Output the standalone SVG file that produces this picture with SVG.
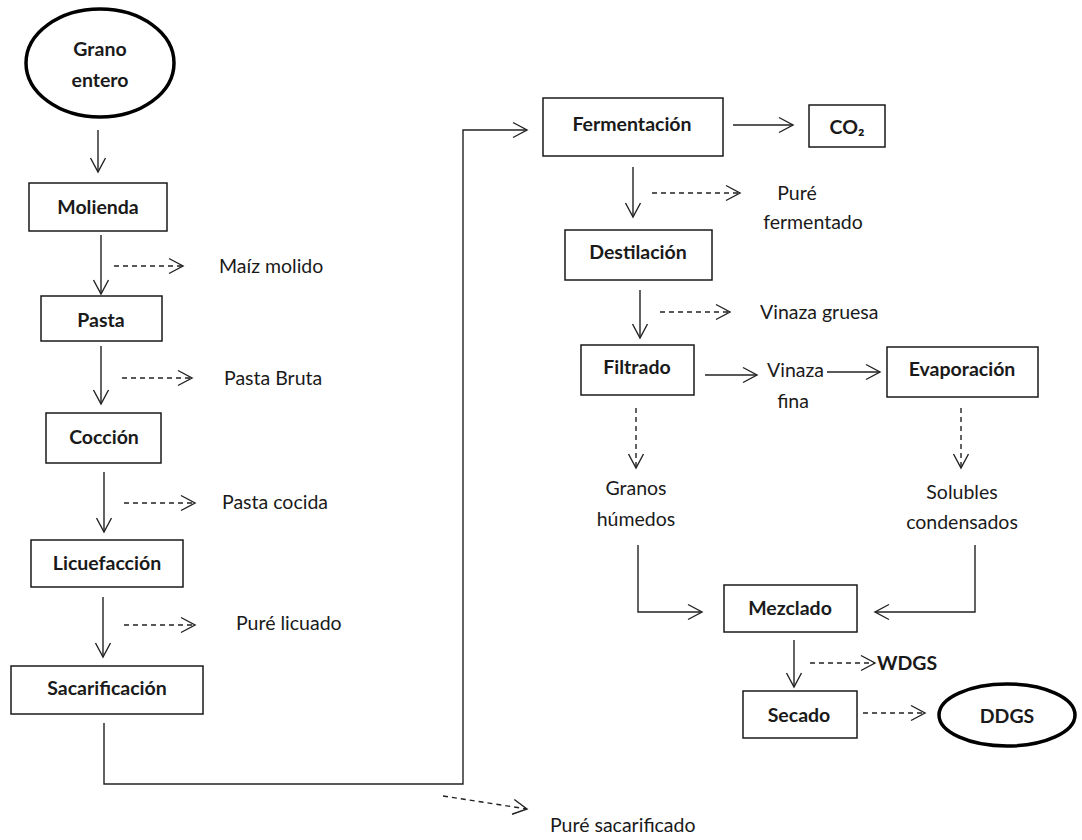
<svg xmlns="http://www.w3.org/2000/svg" width="1082" height="840" viewBox="0 0 1082 840">
<style>
.box{fill:#fff;stroke:#1a1a1a;stroke-width:1.5}
.ell{fill:#fff;stroke:#000;stroke-width:3.5}
.b{font-family:Lato,"Open Sans","Liberation Sans",sans-serif;font-weight:bold;font-size:19.5px;fill:#1a1a1a;text-anchor:middle}
.t{font-family:Lato,"Open Sans","Liberation Sans",sans-serif;font-size:19.5px;fill:#1a1a1a}
.tc{text-anchor:middle}
.c{fill:none;stroke:#222;stroke-width:1.4}
.d{stroke-dasharray:5 4}
</style>
<defs>
<marker id="ah" markerUnits="userSpaceOnUse" markerWidth="20" markerHeight="20" refX="16" refY="9" orient="auto">
<path d="M2,1.5 L16,9 L2,16.5" fill="none" stroke="#222" stroke-width="1.4"/>
</marker>
</defs>
<rect width="1082" height="840" fill="#fff"/>
<g id="connectors">
<path class="c" d="M98,130 V172" marker-end="url(#ah)"/>
<path class="c" d="M101,235 V294" marker-end="url(#ah)"/>
<path class="c d" d="M114,266 H183" marker-end="url(#ah)"/>
<path class="c" d="M101,346 V404" marker-end="url(#ah)"/>
<path class="c d" d="M122,378 H192" marker-end="url(#ah)"/>
<path class="c" d="M104,472 V532" marker-end="url(#ah)"/>
<path class="c d" d="M124,503 H195" marker-end="url(#ah)"/>
<path class="c" d="M103,597 V657" marker-end="url(#ah)"/>
<path class="c d" d="M124,625 H195" marker-end="url(#ah)"/>
<path class="c" d="M104,723 V784 H463 V130 H527" marker-end="url(#ah)"/>
<path class="c d" d="M443,796 L527,809" marker-end="url(#ah)"/>
<path class="c" d="M733,125 H793" marker-end="url(#ah)"/>
<path class="c" d="M633,167 V217" marker-end="url(#ah)"/>
<path class="c d" d="M652,193 H740" marker-end="url(#ah)"/>
<path class="c" d="M640,290 V338" marker-end="url(#ah)"/>
<path class="c d" d="M660,312 H730" marker-end="url(#ah)"/>
<path class="c" d="M705,375 H757" marker-end="url(#ah)"/>
<path class="c" d="M827,372 H880" marker-end="url(#ah)"/>
<path class="c d" d="M636,408 V468" marker-end="url(#ah)"/>
<path class="c d" d="M961,408 V468" marker-end="url(#ah)"/>
<path class="c" d="M638,545 V612 H702" marker-end="url(#ah)"/>
<path class="c" d="M975,545 V612 H875" marker-end="url(#ah)"/>
<path class="c" d="M794,640 V687" marker-end="url(#ah)"/>
<path class="c d" d="M810,663 H875" marker-end="url(#ah)"/>
<path class="c d" d="M863,713 H925" marker-end="url(#ah)"/>
</g>
<g id="grano"><ellipse class="ell" cx="100" cy="63" rx="74" ry="54"/><text class="b" x="100" y="56">Grano</text><text class="b" x="100" y="87">entero</text></g>
<g id="molienda"><rect class="box" x="29" y="183" width="138" height="48"/><text class="b" x="98" y="214">Molienda</text></g>
<g id="pasta"><rect class="box" x="41" y="296" width="121" height="45"/><text class="b" x="101" y="327">Pasta</text></g>
<g id="coccion"><rect class="box" x="46" y="413" width="115" height="50"/><text class="b" x="104" y="444">Cocción</text></g>
<g id="licuefaccion"><rect class="box" x="31" y="540" width="152" height="47"/><text class="b" x="107" y="570">Licuefacción</text></g>
<g id="sacarificacion"><rect class="box" x="11" y="666" width="192" height="48"/><text class="b" x="107" y="695">Sacarificación</text></g>
<g id="fermentacion"><rect class="box" x="543" y="98" width="180" height="58"/><text class="b" x="632" y="131">Fermentación</text></g>
<g id="co2"><rect class="box" x="809" y="105" width="76" height="42"/><text class="b" x="847" y="134">CO₂</text></g>
<g id="destilacion"><rect class="box" x="565" y="230" width="147" height="50"/><text class="b" x="638" y="259">Destilación</text></g>
<g id="filtrado"><rect class="box" x="581" y="345" width="113" height="50"/><text class="b" x="637" y="374">Filtrado</text></g>
<g id="evaporacion"><rect class="box" x="887" y="347" width="151" height="50"/><text class="b" x="962" y="376">Evaporación</text></g>
<g id="mezclado"><rect class="box" x="724" y="585" width="133" height="47"/><text class="b" x="790" y="615">Mezclado</text></g>
<g id="secado"><rect class="box" x="743" y="691" width="114" height="47"/><text class="b" x="799" y="722">Secado</text></g>
<g id="ddgs"><ellipse class="ell" cx="1007" cy="715" rx="68" ry="31"/><text class="b" x="1007" y="723">DDGS</text></g>
<g id="labels">
<text class="t" x="219" y="273">Maíz molido</text>
<text class="t" x="224" y="385">Pasta Bruta</text>
<text class="t" x="222" y="509">Pasta cocida</text>
<text class="t" x="236" y="630">Puré licuado</text>
<text class="t" x="550" y="832">Puré sacarificado</text>
<text class="t tc" x="797" y="200">Puré</text>
<text class="t tc" x="813" y="229">fermentado</text>
<text class="t" x="760" y="319">Vinaza gruesa</text>
<text class="t" x="767" y="377">Vinaza</text>
<text class="t tc" x="793" y="408">fina</text>
<text class="t tc" x="636" y="495">Granos</text>
<text class="t tc" x="636" y="526">húmedos</text>
<text class="t tc" x="962" y="499">Solubles</text>
<text class="t tc" x="962" y="529">condensados</text>
<text class="b" x="877" y="670" style="text-anchor:start">WDGS</text>
</g>
</svg>
